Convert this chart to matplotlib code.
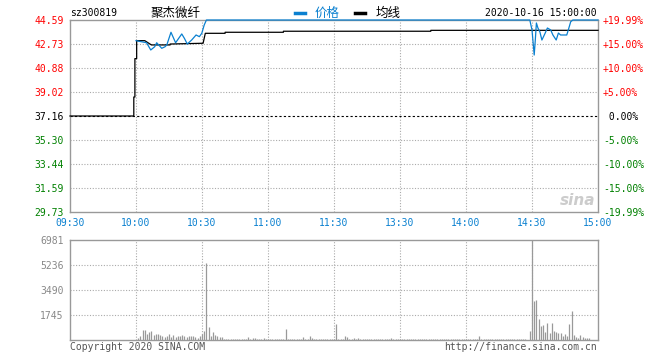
import matplotlib
matplotlib.use("Agg")
import matplotlib.pyplot as plt
from matplotlib.lines import Line2D

plt.rcParams["font.family"] = ["DejaVu Sans Mono", "Noto Sans CJK SC"]

# --- data -------------------------------------------------------------
prev_close = 37.16
price_levels = [44.59, 42.73, 40.88, 39.02, 37.16, 35.30, 33.44, 31.59, 29.73]
price_labels = ["44.59", "42.73", "40.88", "39.02", "37.16", "35.30", "33.44", "31.59", "29.73"]
pct_labels = ["+19.99%", "+15.00%", "+10.00%", "+5.00%", " 0.00%",
              "-5.00%", "-10.00%", "-15.00%", "-19.99%"]
time_ticks = [0, 30, 60, 90, 120, 150, 180, 210, 240]
time_labels = ["09:30", "10:00", "10:30", "11:00", "11:30", "13:30", "14:00", "14:30", "15:00"]

price_minute = [30, 34.8, 36.7, 38.5, 39.4, 41.7, 43.2, 44, 45.9, 48, 50.8, 52, 53.3,
                55.3, 57.3, 58.8, 59.9, 61, 62, 209, 210, 211, 211.5, 212, 212.7,
                213.6, 214.5, 216, 217, 218.5, 219.5, 221, 222, 223, 225.8, 226.5,
                227.6, 228.6, 240]
price_value = [42.99, 42.83, 42.27, 42.52, 42.83, 42.40, 42.52, 42.66, 43.64, 42.83,
               43.51, 43.17, 42.73, 43.04, 43.43, 43.30, 43.56, 44.20, 44.59, 44.59,
               43.82, 41.88, 43.04, 44.36, 43.97, 43.66, 43.04, 43.58, 43.97, 43.82,
               43.43, 43.04, 43.58, 43.43, 43.43, 43.82, 44.46, 44.59, 44.59]

avg_minute = [0, 29, 29, 29.5, 29.5, 30.3, 30.3, 34, 37, 45.5, 45.5, 60.5, 61.5,
              70.5, 70.5, 97, 97, 164, 164, 240]
avg_value = [37.16, 37.16, 38.63, 38.63, 41.60, 41.60, 42.99, 42.99, 42.66, 42.66,
             42.73, 42.79, 43.56, 43.56, 43.64, 43.64, 43.72, 43.72, 43.79, 43.79]

vol_levels = [6981, 5236, 3490, 1745]
volume = [
    0, 0, 0, 0, 0, 0, 0, 0, 0, 0,
    0, 0, 0, 0, 0, 0, 0, 0, 0, 0,
    0, 0, 0, 0, 0, 0, 0, 0, 0, 0,
    0, 120, 280, 700, 700, 420, 580, 630, 350, 400,
    430, 320, 280, 230, 280, 430, 230, 330, 190, 280,
    280, 330, 280, 230, 280, 250, 280, 190, 120, 280,
    430, 600, 5400, 930, 300, 560, 350, 280, 210, 210,
    70, 70, 70, 70, 70, 70, 70, 70, 70, 70,
    70, 210, 70, 140, 140, 70, 70, 70, 140, 70,
    70, 70, 70, 70, 70, 70, 70, 70, 770, 70,
    70, 70, 70, 70, 70, 70, 210, 70, 70, 280,
    140, 70, 70, 70, 70, 70, 70, 70, 70, 70,
    70, 1115, 70, 70, 70, 280, 210, 70, 70, 140,
    70, 140, 70, 70, 70, 70, 70, 70, 70, 70,
    70, 70, 70, 70, 70, 70, 140, 70, 70, 70,
    70, 70, 70, 70, 70, 70, 70, 70, 70, 70,
    70, 70, 70, 70, 70, 70, 70, 70, 70, 70,
    70, 70, 70, 70, 70, 70, 70, 70, 70, 70,
    70, 70, 70, 70, 70, 70, 300, 70, 70, 70,
    70, 70, 70, 70, 70, 70, 70, 70, 70, 70,
    70, 70, 70, 70, 70, 70, 70, 70, 0, 630,
    6981, 2720, 2790, 1465, 980, 1050, 560, 1190, 490, 1190,
    630, 560, 490, 490, 280, 420, 280, 1115, 2020, 350,
    210, 140, 350, 210, 140, 140, 140, 0, 0, 0,
]

# --- style ------------------------------------------------------------
W, H = 660, 360
GRID = "#aaaaaa"
AXIS = "#999999"
RED = "#ff0000"
GREEN = "#008000"
BLUE = "#0a80d0"
FS = 7


def label_color(i):
    if i < 4:
        return RED
    if i == 4:
        return "black"
    return GREEN


def px(x, y):
    return x / W, 1 - y / H


fig = plt.figure(figsize=(6.6, 3.6), dpi=100)
fig.patch.set_facecolor("white")

ax = fig.add_axes([70 / W, 148 / H, 528 / W, 192 / H])
axv = fig.add_axes([70 / W, 20 / H, 528 / W, 100 / H])

for a in (ax, axv):
    a.set_xlim(0, 240)
    for s in a.spines.values():
        s.set_color(AXIS)
        s.set_linewidth(1.0)
    a.tick_params(length=0)
    for t in time_ticks[1:-1]:
        a.axvline(t, color=GRID, lw=0.8, ls=(0, (1, 1.5)), zorder=1)

# price panel
ax.set_ylim(price_levels[-1], price_levels[0])
for lv in price_levels[1:-1]:
    if lv != prev_close:
        ax.axhline(lv, color=GRID, lw=0.8, ls=(0, (1, 1.5)), zorder=1)
ax.axhline(prev_close, color="black", lw=0.8, ls=(0, (2, 2)), zorder=2)
ax.plot(avg_minute, avg_value, color="black", lw=0.9, zorder=4, clip_on=False)
ax.plot(price_minute, price_value, color=BLUE, lw=0.9, zorder=5, clip_on=False)

ax.set_yticks(price_levels, labels=price_labels)
ax.tick_params(axis="y", pad=4.5, labelsize=FS)
for i, tl in enumerate(ax.get_yticklabels()):
    tl.set_color(label_color(i))

ax.set_xticks(time_ticks, labels=time_labels)
ax.tick_params(axis="x", pad=4.5, labelsize=FS, labelcolor=BLUE)

axr = ax.twinx()
axr.set_ylim(ax.get_ylim())
axr.set_yticks(price_levels, labels=pct_labels)
axr.tick_params(length=0, pad=3.5, labelsize=FS)
for s in axr.spines.values():
    s.set_visible(False)
for i, tl in enumerate(axr.get_yticklabels()):
    tl.set_color(label_color(i))

ax.text(0.995, 0.02, "sina", transform=ax.transAxes, ha="right", va="bottom",
        fontsize=11, style="italic", weight="bold", color="#cccccc",
        family="DejaVu Sans", zorder=0)

# volume panel
axv.set_ylim(0, vol_levels[0])
for lv in vol_levels[1:]:
    axv.axhline(lv, color=GRID, lw=0.8, ls=(0, (1, 1.5)), zorder=1)
axv.vlines(range(len(volume)), 0, volume, color=AXIS, lw=0.9, zorder=3)
axv.set_yticks(vol_levels, labels=[str(v) for v in vol_levels])
axv.tick_params(axis="y", pad=4.5, labelsize=FS, labelcolor="#888888")
axv.set_xticks([])

# header
fig.text(*px(70, 13), "sz300819", fontsize=FS, va="center", ha="left")
fig.text(*px(176, 13), "聚杰微纤", fontsize=9, va="center", ha="center",
         family=["Noto Sans CJK SC", "DejaVu Sans"])
fig.add_artist(Line2D([295 / W, 305 / W], [1 - 12.5 / H] * 2, color=BLUE, lw=2.5))
fig.text(*px(315, 13), "价格", fontsize=9, va="center", ha="left", color=BLUE,
         family=["Noto Sans CJK SC", "DejaVu Sans"])
fig.add_artist(Line2D([355 / W, 365 / W], [1 - 12.5 / H] * 2, color="black", lw=2.5))
fig.text(*px(376, 13), "均线", fontsize=9, va="center", ha="left",
         family=["Noto Sans CJK SC", "DejaVu Sans"])
fig.text(*px(597, 13), "2020-10-16 15:00:00", fontsize=FS, va="center", ha="right")

# footer
fig.text(*px(70, 347), "Copyright 2020 SINA.COM", fontsize=FS, va="center",
         ha="left", color="#555555")
fig.text(*px(597, 347), "http://finance.sina.com.cn", fontsize=FS, va="center",
         ha="right", color="#555555")

fig.savefig("out.png", dpi=100, facecolor="white")
